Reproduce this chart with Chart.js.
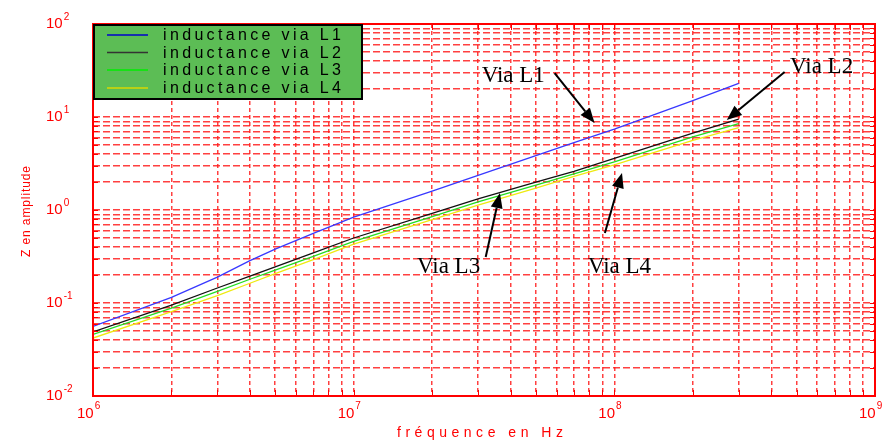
<!DOCTYPE html>
<html>
<head>
<meta charset="utf-8">
<script src="https://cdn.jsdelivr.net/npm/chart.js@4/dist/chart.umd.min.js"></script>
<style>
  html, body { margin: 0; padding: 0; background: #fff; }
</style>
</head>
<body>
<canvas id="chart" width="892" height="441"></canvas>
<script>
// Data
const freq = [1e6, 2e6, 3e6, 4e6, 5e6, 7e6, 1e7, 2e7, 3e7, 5e7, 7e7, 1e8, 2e8, 3e8];
const zL1 = [0.056, 0.115, 0.19, 0.285, 0.38, 0.56, 0.84, 1.6, 2.35, 3.85, 5.3, 7.4, 15, 23];
const zL2 = [0.049, 0.095, 0.145, 0.195, 0.245, 0.345, 0.50, 0.92, 1.32, 2.0, 2.6, 3.6, 6.7, 9.5];
const zL3 = [0.046, 0.088, 0.133, 0.18, 0.226, 0.318, 0.46, 0.85, 1.22, 1.85, 2.45, 3.3, 6.1, 8.5];
const zL4 = [0.042, 0.081, 0.12, 0.163, 0.207, 0.292, 0.43, 0.79, 1.13, 1.72, 2.3, 3.05, 5.6, 7.7];
const seriesNames = ["inductance via L1", "inductance via L2", "inductance via L3", "inductance via L4"];

// tick labels (powers of ten)
const xExp = [6, 7, 8, 9];
const yExp = [-2, -1, 0, 1, 2];

// annotations, in data coordinates [freq, Z]
const annText = ["Via L1", "Via L2", "Via L3", "Via L4"];
const annTextAt = [[3.1e7, 23.8], [4.72e8, 29.7], [1.75e7, 0.21], [7.92e7, 0.21]];
const annFrom = [[5.9e7, 29.7], [4.5e8, 30.5], [3.21e7, 0.313], [9.2e7, 0.566]];
const annTo = [[8.4e7, 8.6], [2.7e8, 9.3], [3.64e7, 1.52], [1.07e8, 2.5]];

const lineColors = ["#3838ff", "#111111", "#22dd22", "#eeea10"];
const legendColors = ["#0000cc", "#333333", "#00ee00", "#d8d800"];
const RED = "#ff0000";
const GRID = "rgba(255,30,30,0.85)";

function logTicks(exps) {
  const out = [];
  for (let i = 0; i < exps.length; i++) {
    const base = Math.pow(10, exps[i]);
    if (i === exps.length - 1) { out.push({ value: base }); break; }
    for (let m = 1; m <= 9; m++) out.push({ value: m * base });
  }
  return out;
}

// draw text stretched to a given width with letter spacing
function drawSpaced(ctx, text, x, y, width) {
  const chars = text.split("");
  const w0 = chars.reduce((a, c) => a + ctx.measureText(c).width, 0);
  const gap = chars.length > 1 ? (width - w0) / (chars.length - 1) : 0;
  let cx = x;
  chars.forEach((c) => {
    ctx.fillText(c, cx, y);
    cx += ctx.measureText(c).width + gap;
  });
}

function arrow(ctx, x1, y1, x2, y2) {
  const ang = Math.atan2(y2 - y1, x2 - x1);
  const len = 15, half = 6;
  const bx = x2 - len * Math.cos(ang), by = y2 - len * Math.sin(ang);
  ctx.beginPath();
  ctx.moveTo(x1, y1);
  ctx.lineTo(bx, by);
  ctx.stroke();
  ctx.beginPath();
  ctx.moveTo(x2, y2);
  ctx.lineTo(bx + half * Math.sin(ang), by - half * Math.cos(ang));
  ctx.lineTo(bx - half * Math.sin(ang), by + half * Math.cos(ang));
  ctx.closePath();
  ctx.fill();
}

const decorations = {
  id: "decorations",
  beforeDraw(chart) {
    const ctx = chart.ctx;
    ctx.save();
    ctx.fillStyle = "#fff";
    ctx.fillRect(0, 0, chart.width, chart.height);
    ctx.restore();
  },
  afterDraw(chart) {
    const ctx = chart.ctx;
    const ca = chart.chartArea;
    const xs = chart.scales.x, ys = chart.scales.y;
    ctx.save();

    // frame and small ticks
    ctx.strokeStyle = RED;
    ctx.lineWidth = 2;
    ctx.setLineDash([]);
    ctx.strokeRect(ca.left, ca.top, ca.right - ca.left, ca.bottom - ca.top);
    ctx.lineWidth = 1;
    ctx.beginPath();
    logTicks(yExp).forEach((t) => {
      const py = Math.round(ys.getPixelForValue(t.value)) + 0.5;
      ctx.moveTo(ca.left, py); ctx.lineTo(ca.left + 5, py);
      ctx.moveTo(ca.right, py); ctx.lineTo(ca.right - 5, py);
    });
    logTicks(xExp).forEach((t) => {
      const px = Math.round(xs.getPixelForValue(t.value)) + 0.5;
      ctx.moveTo(px, ca.bottom); ctx.lineTo(px, ca.bottom - 6);
      ctx.moveTo(px, ca.top); ctx.lineTo(px, ca.top + 6);
    });
    ctx.stroke();

    // tick labels
    ctx.fillStyle = RED;
    ctx.textBaseline = "middle";
    ctx.textAlign = "left";
    yExp.forEach((e) => {
      const py = ys.getPixelForValue(Math.pow(10, e));
      ctx.font = "15px Arial";
      ctx.fillText("10", 46, py);
      const w = ctx.measureText("10").width;
      ctx.font = "10px Arial";
      ctx.fillText(String(e), 46 + w + 1, py - 7);
    });
    xExp.forEach((e) => {
      const px = xs.getPixelForValue(Math.pow(10, e));
      ctx.font = "15px Arial";
      ctx.fillText("10", px - 16, 414);
      const w = ctx.measureText("10").width;
      ctx.font = "10px Arial";
      ctx.fillText(String(e), px - 16 + w + 1, 406);
    });

    // axis titles
    ctx.font = "14px Arial";
    drawSpaced(ctx, "fréquence en Hz", 397, 433, 166);
    ctx.font = "12px Arial";
    ctx.save();
    ctx.translate(27, 212);
    ctx.rotate(-Math.PI / 2);
    drawSpaced(ctx, "Z en amplitude", -45, 0, 91);
    ctx.restore();

    // legend box
    ctx.fillStyle = "#5cbd55";
    ctx.fillRect(94, 25, 268, 74);
    ctx.strokeStyle = "#000";
    ctx.lineWidth = 2;
    ctx.strokeRect(94, 25, 268, 74);
    const rows = [35, 52.5, 70, 88];
    ctx.font = "16px Arial";
    seriesNames.forEach((name, i) => {
      ctx.strokeStyle = legendColors[i];
      ctx.lineWidth = 1.5;
      ctx.beginPath();
      ctx.moveTo(107, rows[i]);
      ctx.lineTo(148, rows[i]);
      ctx.stroke();
      ctx.fillStyle = "#000";
      drawSpaced(ctx, name, 163, rows[i] + 1, 178);
    });

    // annotations
    ctx.fillStyle = "#000";
    ctx.strokeStyle = "#000";
    ctx.lineWidth = 2;
    ctx.textBaseline = "alphabetic";
    ctx.font = '23px "Liberation Serif", "Times New Roman", serif';
    annText.forEach((txt, i) => {
      const tx = xs.getPixelForValue(annTextAt[i][0]);
      const ty = ys.getPixelForValue(annTextAt[i][1]);
      ctx.fillText(txt, tx, ty);
      arrow(ctx,
        xs.getPixelForValue(annFrom[i][0]), ys.getPixelForValue(annFrom[i][1]),
        xs.getPixelForValue(annTo[i][0]), ys.getPixelForValue(annTo[i][1]));
    });
    ctx.restore();
  }
};

const series = [zL1, zL2, zL3, zL4];
const ctx = document.getElementById("chart").getContext("2d");
const chart = new Chart(ctx, {
  type: "line",
  data: {
    datasets: series.map((vals, i) => ({
      label: seriesNames[i],
      data: freq.map((f, k) => ({ x: f, y: vals[k] })),
      borderColor: lineColors[i],
      borderWidth: 1.3,
      pointRadius: 0,
      tension: 0,
      fill: false,
    })),
  },
  options: {
    responsive: false,
    animation: false,
    layout: { padding: { left: 93, right: 17, top: 24, bottom: 45 } },
    plugins: { legend: { display: false }, tooltip: { enabled: false } },
    scales: {
      x: {
        type: "logarithmic",
        min: 1e6,
        max: 1e9,
        afterBuildTicks: (scale) => { scale.ticks = logTicks(xExp); },
        ticks: { display: false, autoSkip: false },
        grid: { color: GRID, lineWidth: 1.5, drawTicks: false },
        border: { display: false, dash: [4, 3] },
      },
      y: {
        type: "logarithmic",
        min: 1e-2,
        max: 1e2,
        afterBuildTicks: (scale) => { scale.ticks = logTicks(yExp); },
        ticks: { display: false, autoSkip: false },
        grid: { color: GRID, lineWidth: 1.5, drawTicks: false },
        border: { display: false, dash: [7, 3] },
      },
    },
  },
  plugins: [decorations],
});
</script>
</body>
</html>
